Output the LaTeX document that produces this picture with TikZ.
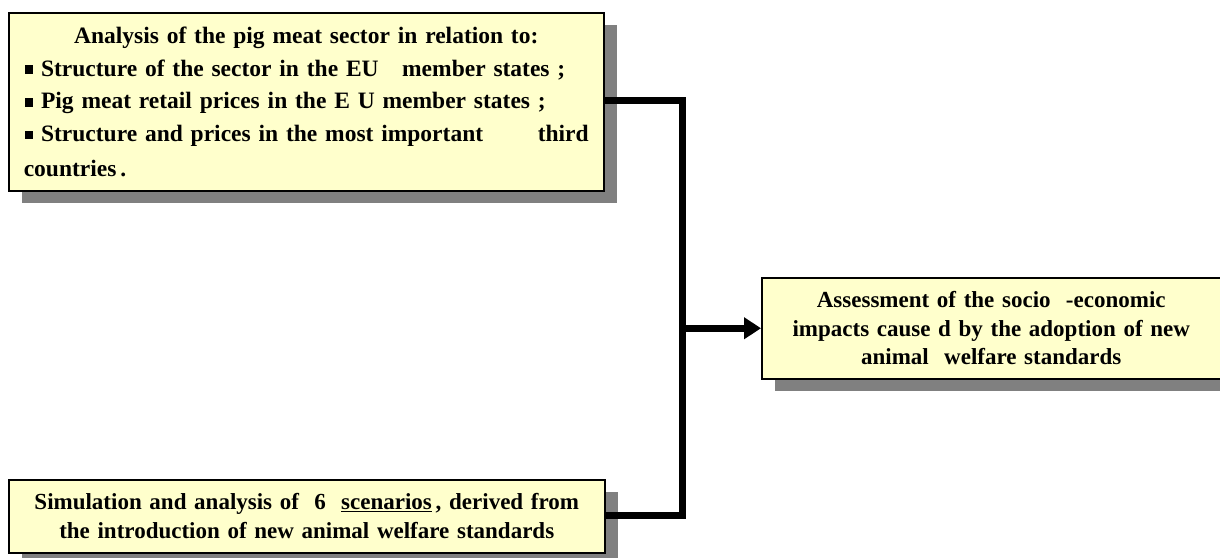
\documentclass[tikz,border=0pt]{standalone}
\usepackage{fontspec}
\setmainfont{Liberation Serif}
\usetikzlibrary{arrows.meta,shadows}
\definecolor{boxfill}{HTML}{FFFFCC}
\definecolor{shadowgray}{HTML}{808080}
\newcommand{\sqb}{\raisebox{0.1em}{\rule{0.36em}{0.36em}}}
\tikzset{
  box/.style={draw=black, line width=1.5pt, fill=boxfill, anchor=north west,
    font=\bfseries\fontsize{23}{28.5}\selectfont,
    drop shadow={shadow xshift=13pt, shadow yshift=-12pt, fill=shadowgray, opacity=1}},
  conn/.style={line width=7pt, line join=miter, line cap=butt},
}
\begin{document}
\begin{tikzpicture}[x=1pt,y=-1pt]
\useasboundingbox (0,0) rectangle (1220,557);
\node[box, minimum width=595pt, minimum height=178pt, text width=565pt, inner xsep=15pt, align=left,
  font=\bfseries\fontsize{23.5}{32.8}\selectfont] (a) at (8,12)
  {\makebox[\linewidth][c]{Analysis of the pig meat sector in relation to:}\\
   \hspace*{1pt}\sqb\ Structure of the sector in the EU\ \ \ member states ;\\
   \hspace*{1pt}\sqb\ Pig meat retail prices in the E\ U member states ;\\
   \hspace*{1pt}\sqb\ Structure and prices in the most important\hfill third\\[2pt]
   countries\,.};
\node[box, minimum width=459pt, minimum height=101pt, text width=440pt, align=center] (b) at (761,277)
  {Assessment of the socio\ \ -economic\\
   impacts cause d by the adoption of new\\
   animal\ \ welfare standards};
\node[box, minimum width=596pt, minimum height=73pt, text width=585pt, align=center] (c) at (8,479)
  {Simulation and analysis of\ \ 6\ \ \underline{scenarios}\,, derived from\\
   the introduction of new animal welfare standards};
\coordinate (top) at (682,100);
\coordinate (bot) at (682,515);
\draw[conn] (top -| a.east) -- (top) -- (bot) -- (bot -| c.east);
\draw[conn, -{Triangle[length=17pt,width=21pt]}] (b.west -| top) -- (b.west);
\end{tikzpicture}
\end{document}
